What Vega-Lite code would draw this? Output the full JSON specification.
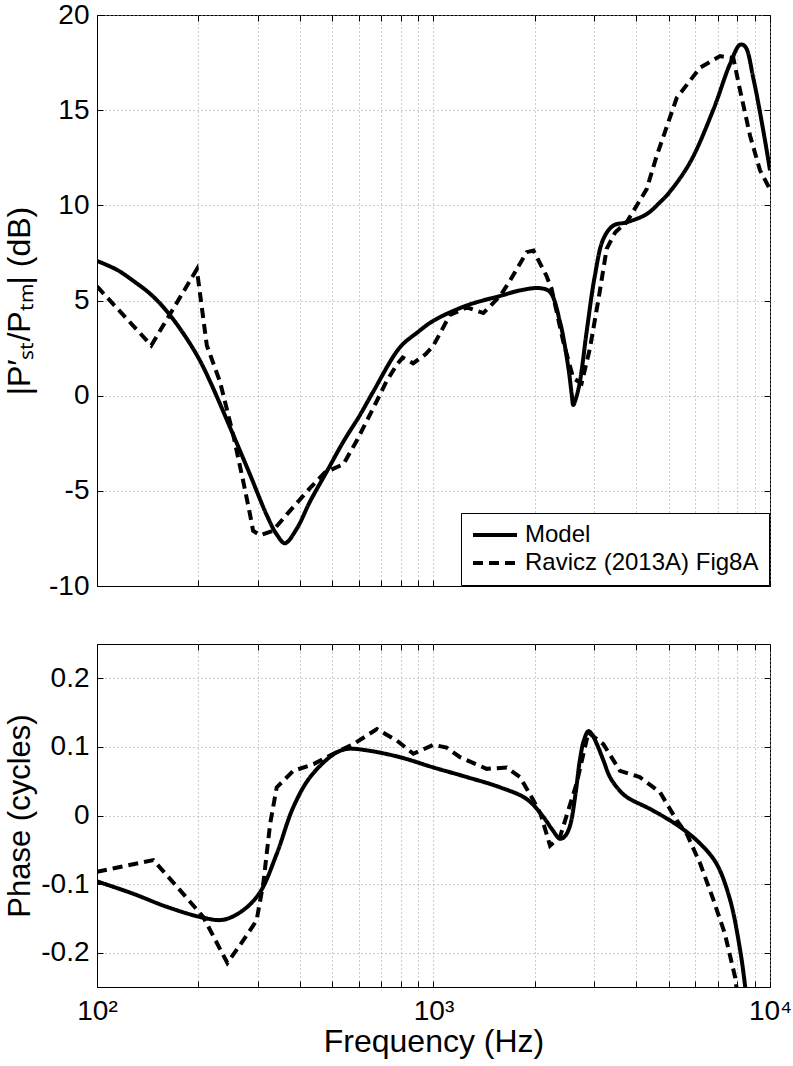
{
  "$schema": "https://vega.github.io/schema/vega-lite/v6.json",
  "background": "white",
  "padding": {"left": 3, "top": 0, "right": 2, "bottom": 6},
  "bounds": "flush",
  "spacing": 58,
  "config": {
    "font": "Liberation Sans",
    "view": {"stroke": "black", "strokeWidth": 1},
    "axis": {
      "domainColor": "black",
      "gridColor": "#9a9a9a",
      "gridDash": [1, 3],
      "gridWidth": 1,
      "tickColor": "black",
      "tickSize": -6,
      "labelFontSize": 28,
      "labelColor": "black",
      "titleFontSize": 32,
      "titleColor": "black",
      "titleFontWeight": "normal",
      "labelFont": "Liberation Sans",
      "titleFont": "Liberation Sans"
    },
    "legend": {"labelFont": "Liberation Sans"}
  },
  "datasets": {
    "mag": [
      {"f": 100, "v": 7.08, "series": "Model"},
      {"f": 115, "v": 6.6, "series": "Model"},
      {"f": 128, "v": 6.04, "series": "Model"},
      {"f": 145, "v": 5.3, "series": "Model"},
      {"f": 161, "v": 4.45, "series": "Model"},
      {"f": 180, "v": 3.3, "series": "Model"},
      {"f": 200, "v": 2.0, "series": "Model"},
      {"f": 217, "v": 0.73, "series": "Model"},
      {"f": 254, "v": -2.06, "series": "Model"},
      {"f": 285, "v": -4.15, "series": "Model"},
      {"f": 319, "v": -6.25, "series": "Model"},
      {"f": 342, "v": -7.29, "series": "Model"},
      {"f": 362, "v": -7.75, "series": "Model"},
      {"f": 392, "v": -7.0, "series": "Model"},
      {"f": 430, "v": -5.55, "series": "Model"},
      {"f": 482, "v": -3.98, "series": "Model"},
      {"f": 540, "v": -2.41, "series": "Model"},
      {"f": 605, "v": -1.01, "series": "Model"},
      {"f": 662, "v": 0.21, "series": "Model"},
      {"f": 795, "v": 2.54, "series": "Model"},
      {"f": 900, "v": 3.35, "series": "Model"},
      {"f": 1000, "v": 3.94, "series": "Model"},
      {"f": 1256, "v": 4.74, "series": "Model"},
      {"f": 1578, "v": 5.24, "series": "Model"},
      {"f": 1808, "v": 5.53, "series": "Model"},
      {"f": 2070, "v": 5.65, "series": "Model"},
      {"f": 2218, "v": 5.45, "series": "Model"},
      {"f": 2377, "v": 3.87, "series": "Model"},
      {"f": 2518, "v": 1.43, "series": "Model"},
      {"f": 2576, "v": 0.04, "series": "Model"},
      {"f": 2603, "v": -0.49, "series": "Model"},
      {"f": 2650, "v": -0.14, "series": "Model"},
      {"f": 2723, "v": 0.73, "series": "Model"},
      {"f": 2851, "v": 3.35, "series": "Model"},
      {"f": 3018, "v": 6.32, "series": "Model"},
      {"f": 3198, "v": 8.24, "series": "Model"},
      {"f": 3424, "v": 8.94, "series": "Model"},
      {"f": 3750, "v": 9.11, "series": "Model"},
      {"f": 4300, "v": 9.54, "series": "Model"},
      {"f": 4710, "v": 10.16, "series": "Model"},
      {"f": 5000, "v": 10.64, "series": "Model"},
      {"f": 5780, "v": 12.24, "series": "Model"},
      {"f": 6790, "v": 15.04, "series": "Model"},
      {"f": 7610, "v": 17.44, "series": "Model"},
      {"f": 8150, "v": 18.44, "series": "Model"},
      {"f": 8440, "v": 18.34, "series": "Model"},
      {"f": 8930, "v": 16.64, "series": "Model"},
      {"f": 9570, "v": 13.84, "series": "Model"},
      {"f": 10000, "v": 11.84, "series": "Model"},
      {"f": 100, "v": 5.74, "series": "Ravicz (2013A) Fig8A"},
      {"f": 145, "v": 2.64, "series": "Ravicz (2013A) Fig8A"},
      {"f": 198, "v": 6.64, "series": "Ravicz (2013A) Fig8A"},
      {"f": 212, "v": 2.64, "series": "Ravicz (2013A) Fig8A"},
      {"f": 232, "v": 0.73, "series": "Ravicz (2013A) Fig8A"},
      {"f": 254, "v": -2.06, "series": "Ravicz (2013A) Fig8A"},
      {"f": 272, "v": -4.5, "series": "Ravicz (2013A) Fig8A"},
      {"f": 285, "v": -6.25, "series": "Ravicz (2013A) Fig8A"},
      {"f": 291, "v": -7.1, "series": "Ravicz (2013A) Fig8A"},
      {"f": 305, "v": -7.33, "series": "Ravicz (2013A) Fig8A"},
      {"f": 333, "v": -7.1, "series": "Ravicz (2013A) Fig8A"},
      {"f": 366, "v": -6.25, "series": "Ravicz (2013A) Fig8A"},
      {"f": 430, "v": -4.85, "series": "Ravicz (2013A) Fig8A"},
      {"f": 475, "v": -4.05, "series": "Ravicz (2013A) Fig8A"},
      {"f": 540, "v": -3.6, "series": "Ravicz (2013A) Fig8A"},
      {"f": 590, "v": -2.4, "series": "Ravicz (2013A) Fig8A"},
      {"f": 662, "v": -0.66, "series": "Ravicz (2013A) Fig8A"},
      {"f": 724, "v": 0.73, "series": "Ravicz (2013A) Fig8A"},
      {"f": 779, "v": 1.64, "series": "Ravicz (2013A) Fig8A"},
      {"f": 810, "v": 2.0, "series": "Ravicz (2013A) Fig8A"},
      {"f": 870, "v": 1.7, "series": "Ravicz (2013A) Fig8A"},
      {"f": 950, "v": 2.2, "series": "Ravicz (2013A) Fig8A"},
      {"f": 1000, "v": 2.64, "series": "Ravicz (2013A) Fig8A"},
      {"f": 1119, "v": 4.24, "series": "Ravicz (2013A) Fig8A"},
      {"f": 1256, "v": 4.64, "series": "Ravicz (2013A) Fig8A"},
      {"f": 1406, "v": 4.34, "series": "Ravicz (2013A) Fig8A"},
      {"f": 1578, "v": 5.24, "series": "Ravicz (2013A) Fig8A"},
      {"f": 1688, "v": 6.04, "series": "Ravicz (2013A) Fig8A"},
      {"f": 1892, "v": 7.54, "series": "Ravicz (2013A) Fig8A"},
      {"f": 1982, "v": 7.62, "series": "Ravicz (2013A) Fig8A"},
      {"f": 2163, "v": 6.32, "series": "Ravicz (2013A) Fig8A"},
      {"f": 2243, "v": 5.62, "series": "Ravicz (2013A) Fig8A"},
      {"f": 2431, "v": 2.83, "series": "Ravicz (2013A) Fig8A"},
      {"f": 2603, "v": 0.91, "series": "Ravicz (2013A) Fig8A"},
      {"f": 2755, "v": 0.65, "series": "Ravicz (2013A) Fig8A"},
      {"f": 2916, "v": 2.48, "series": "Ravicz (2013A) Fig8A"},
      {"f": 3095, "v": 5.1, "series": "Ravicz (2013A) Fig8A"},
      {"f": 3270, "v": 7.71, "series": "Ravicz (2013A) Fig8A"},
      {"f": 3470, "v": 8.59, "series": "Ravicz (2013A) Fig8A"},
      {"f": 3750, "v": 9.11, "series": "Ravicz (2013A) Fig8A"},
      {"f": 4300, "v": 10.85, "series": "Ravicz (2013A) Fig8A"},
      {"f": 4606, "v": 12.6, "series": "Ravicz (2013A) Fig8A"},
      {"f": 5280, "v": 15.64, "series": "Ravicz (2013A) Fig8A"},
      {"f": 6200, "v": 17.24, "series": "Ravicz (2013A) Fig8A"},
      {"f": 7100, "v": 17.84, "series": "Ravicz (2013A) Fig8A"},
      {"f": 7780, "v": 17.74, "series": "Ravicz (2013A) Fig8A"},
      {"f": 8150, "v": 16.04, "series": "Ravicz (2013A) Fig8A"},
      {"f": 8730, "v": 13.64, "series": "Ravicz (2013A) Fig8A"},
      {"f": 9340, "v": 11.84, "series": "Ravicz (2013A) Fig8A"},
      {"f": 10000, "v": 10.84, "series": "Ravicz (2013A) Fig8A"}
    ],
    "phase": [
      {"f": 100, "v": -0.096, "series": "Model"},
      {"f": 128, "v": -0.114, "series": "Model"},
      {"f": 161, "v": -0.133, "series": "Model"},
      {"f": 207, "v": -0.149, "series": "Model"},
      {"f": 237, "v": -0.152, "series": "Model"},
      {"f": 272, "v": -0.138, "series": "Model"},
      {"f": 305, "v": -0.112, "series": "Model"},
      {"f": 342, "v": -0.056, "series": "Model"},
      {"f": 383, "v": 0.012, "series": "Model"},
      {"f": 430, "v": 0.056, "series": "Model"},
      {"f": 504, "v": 0.089, "series": "Model"},
      {"f": 552, "v": 0.097, "series": "Model"},
      {"f": 633, "v": 0.095, "series": "Model"},
      {"f": 795, "v": 0.085, "series": "Model"},
      {"f": 1000, "v": 0.07, "series": "Model"},
      {"f": 1256, "v": 0.056, "series": "Model"},
      {"f": 1578, "v": 0.041, "series": "Model"},
      {"f": 1892, "v": 0.024, "series": "Model"},
      {"f": 2120, "v": -0.002, "series": "Model"},
      {"f": 2250, "v": -0.02, "series": "Model"},
      {"f": 2377, "v": -0.034, "series": "Model"},
      {"f": 2460, "v": -0.03, "series": "Model"},
      {"f": 2544, "v": -0.015, "series": "Model"},
      {"f": 2640, "v": 0.03, "series": "Model"},
      {"f": 2721, "v": 0.08, "series": "Model"},
      {"f": 2800, "v": 0.11, "series": "Model"},
      {"f": 2886, "v": 0.123, "series": "Model"},
      {"f": 2960, "v": 0.118, "series": "Model"},
      {"f": 3053, "v": 0.105, "series": "Model"},
      {"f": 3200, "v": 0.08, "series": "Model"},
      {"f": 3345, "v": 0.056, "series": "Model"},
      {"f": 3550, "v": 0.038, "series": "Model"},
      {"f": 3750, "v": 0.027, "series": "Model"},
      {"f": 4500, "v": 0.007, "series": "Model"},
      {"f": 5410, "v": -0.017, "series": "Model"},
      {"f": 6200, "v": -0.041, "series": "Model"},
      {"f": 6930, "v": -0.07, "series": "Model"},
      {"f": 7610, "v": -0.123, "series": "Model"},
      {"f": 8150, "v": -0.196, "series": "Model"},
      {"f": 8440, "v": -0.25, "series": "Model"},
      {"f": 8700, "v": -0.31, "series": "Model"},
      {"f": 100, "v": -0.082, "series": "Ravicz (2013A) Fig8A"},
      {"f": 147, "v": -0.065, "series": "Ravicz (2013A) Fig8A"},
      {"f": 173, "v": -0.104, "series": "Ravicz (2013A) Fig8A"},
      {"f": 207, "v": -0.148, "series": "Ravicz (2013A) Fig8A"},
      {"f": 244, "v": -0.215, "series": "Ravicz (2013A) Fig8A"},
      {"f": 272, "v": -0.182, "series": "Ravicz (2013A) Fig8A"},
      {"f": 298, "v": -0.153, "series": "Ravicz (2013A) Fig8A"},
      {"f": 312, "v": -0.099, "series": "Ravicz (2013A) Fig8A"},
      {"f": 327, "v": -0.012, "series": "Ravicz (2013A) Fig8A"},
      {"f": 342, "v": 0.041, "series": "Ravicz (2013A) Fig8A"},
      {"f": 383, "v": 0.065, "series": "Ravicz (2013A) Fig8A"},
      {"f": 440, "v": 0.075, "series": "Ravicz (2013A) Fig8A"},
      {"f": 504, "v": 0.09, "series": "Ravicz (2013A) Fig8A"},
      {"f": 578, "v": 0.104, "series": "Ravicz (2013A) Fig8A"},
      {"f": 679, "v": 0.126, "series": "Ravicz (2013A) Fig8A"},
      {"f": 779, "v": 0.109, "series": "Ravicz (2013A) Fig8A"},
      {"f": 871, "v": 0.09, "series": "Ravicz (2013A) Fig8A"},
      {"f": 1000, "v": 0.103, "series": "Ravicz (2013A) Fig8A"},
      {"f": 1094, "v": 0.099, "series": "Ravicz (2013A) Fig8A"},
      {"f": 1199, "v": 0.085, "series": "Ravicz (2013A) Fig8A"},
      {"f": 1439, "v": 0.068, "series": "Ravicz (2013A) Fig8A"},
      {"f": 1651, "v": 0.07, "series": "Ravicz (2013A) Fig8A"},
      {"f": 1808, "v": 0.056, "series": "Ravicz (2013A) Fig8A"},
      {"f": 1982, "v": 0.022, "series": "Ravicz (2013A) Fig8A"},
      {"f": 2082, "v": 0.002, "series": "Ravicz (2013A) Fig8A"},
      {"f": 2220, "v": -0.044, "series": "Ravicz (2013A) Fig8A"},
      {"f": 2377, "v": -0.031, "series": "Ravicz (2013A) Fig8A"},
      {"f": 2660, "v": 0.046, "series": "Ravicz (2013A) Fig8A"},
      {"f": 2886, "v": 0.121, "series": "Ravicz (2013A) Fig8A"},
      {"f": 3197, "v": 0.104, "series": "Ravicz (2013A) Fig8A"},
      {"f": 3583, "v": 0.065, "series": "Ravicz (2013A) Fig8A"},
      {"f": 4100, "v": 0.056, "series": "Ravicz (2013A) Fig8A"},
      {"f": 4710, "v": 0.034, "series": "Ravicz (2013A) Fig8A"},
      {"f": 5280, "v": -0.007, "series": "Ravicz (2013A) Fig8A"},
      {"f": 5660, "v": -0.027, "series": "Ravicz (2013A) Fig8A"},
      {"f": 6200, "v": -0.07, "series": "Ravicz (2013A) Fig8A"},
      {"f": 6790, "v": -0.123, "series": "Ravicz (2013A) Fig8A"},
      {"f": 7340, "v": -0.172, "series": "Ravicz (2013A) Fig8A"},
      {"f": 7870, "v": -0.235, "series": "Ravicz (2013A) Fig8A"},
      {"f": 8100, "v": -0.28, "series": "Ravicz (2013A) Fig8A"}
    ]
  },
  "resolve": {"legend": {"strokeDash": "independent"}},
  "vconcat": [
    {
      "width": 673,
      "height": 571,
      "data": {"name": "mag"},
      "resolve": {"axis": {"x": "independent", "y": "independent"}},
      "layer": [
        {
          "transform": [{"filter": "datum.series == 'Model'"}],
          "mark": {"type": "line", "interpolate": "catmull-rom", "strokeWidth": 4, "color": "black", "clip": true},
          "encoding": {
            "x": {
              "field": "f", "type": "quantitative",
              "scale": {"type": "log", "domain": [100, 10000], "nice": false},
              "axis": {
                "values": [100, 200, 300, 400, 500, 600, 700, 800, 900, 1000, 2000, 3000, 4000, 5000, 6000, 7000, 8000, 9000, 10000],
                "labels": false, "title": null, "grid": true
              }
            },
            "y": {
              "field": "v", "type": "quantitative",
              "scale": {"domain": [-10, 20], "nice": false},
              "axis": {
                "values": [-10, -5, 0, 5, 10, 15, 20],
                "labelExpr": "'' + datum.value",
                "labelPadding": 14,
                "title": "|P′ₛₜ/Pₜₘ| (dB)",
                "titlePadding": 12,
                "grid": true
              }
            },
            "strokeDash": {
              "field": "series", "type": "nominal",
              "scale": {"domain": ["Model", "Ravicz (2013A) Fig8A"], "range": [[1, 0], [10, 6]]},
              "legend": {
                "title": null,
                "orient": "bottom-right",
                "offset": 1,
                "strokeColor": "black",
                "fillColor": "white",
                "padding": 10,
                "labelFontSize": 24,
                "labelColor": "black",
                "labelLimit": 0,
                "symbolType": "M-1,0H3.4",
                "symbolSize": 400,
                "symbolStrokeWidth": 4,
                "symbolStrokeColor": "black",
                "symbolFillColor": "transparent",
                "rowPadding": 4,
                "labelOffset": 30
              }
            }
          }
        },
        {
          "transform": [{"filter": "datum.series != 'Model'"}],
          "mark": {"type": "line", "strokeWidth": 4, "color": "black", "clip": true},
          "encoding": {
            "x": {"field": "f", "type": "quantitative", "axis": null},
            "y": {"field": "v", "type": "quantitative", "axis": null},
            "strokeDash": {
              "field": "series", "type": "nominal",
              "scale": {"domain": ["Model", "Ravicz (2013A) Fig8A"], "range": [[1, 0], [10, 6]]},
              "legend": {
                "title": null,
                "orient": "bottom-right",
                "offset": 1,
                "strokeColor": "black",
                "fillColor": "white",
                "padding": 10,
                "labelFontSize": 24,
                "labelColor": "black",
                "labelLimit": 0,
                "symbolType": "M-1,0H3.4",
                "symbolSize": 400,
                "symbolStrokeWidth": 4,
                "symbolStrokeColor": "black",
                "symbolFillColor": "transparent",
                "rowPadding": 4,
                "labelOffset": 30
              }
            }
          }
        },
        {
          "mark": {"type": "point", "opacity": 0},
          "encoding": {
            "x": {
              "field": "f", "type": "quantitative",
              "axis": {
                "orient": "top",
                "values": [100, 200, 300, 400, 500, 600, 700, 800, 900, 1000, 2000, 3000, 4000, 5000, 6000, 7000, 8000, 9000, 10000],
                "labels": false, "title": null, "grid": false, "domain": false
              }
            },
            "y": {
              "field": "v", "type": "quantitative",
              "axis": {
                "orient": "right",
                "values": [-10, -5, 0, 5, 10, 15, 20],
                "labels": false, "title": null, "grid": false, "domain": false
              }
            }
          }
        }
      ]
    },
    {
      "width": 673,
      "height": 343,
      "data": {"name": "phase"},
      "resolve": {"axis": {"x": "independent", "y": "independent"}},
      "layer": [
        {
          "transform": [{"filter": "datum.series == 'Model'"}],
          "mark": {"type": "line", "interpolate": "catmull-rom", "strokeWidth": 4, "color": "black", "clip": true},
          "encoding": {
            "x": {
              "field": "f", "type": "quantitative",
              "scale": {"type": "log", "domain": [100, 10000], "nice": false},
              "axis": {
                "values": [100, 200, 300, 400, 500, 600, 700, 800, 900, 1000, 2000, 3000, 4000, 5000, 6000, 7000, 8000, 9000, 10000],
                "labelExpr": "datum.value == 100 ? '10²' : datum.value == 1000 ? '10³' : datum.value == 10000 ? '10⁴' : ''",
                "labelOverlap": false,
                "labelFlush": false,
                "labelPadding": 16,
                "title": "Frequency (Hz)",
                "titleFontSize": 32,
                "titlePadding": 1,
                "grid": true
              }
            },
            "y": {
              "field": "v", "type": "quantitative",
              "scale": {"domain": [-0.25, 0.25], "nice": false},
              "axis": {
                "values": [-0.2, -0.1, 0, 0.1, 0.2],
                "labelExpr": "'' + datum.value",
                "labelPadding": 14,
                "title": "Phase (cycles)",
                "titleFontSize": 31,
                "titlePadding": 4,
                "grid": true
              }
            },
            "strokeDash": {
              "field": "series", "type": "nominal",
              "scale": {"domain": ["Model", "Ravicz (2013A) Fig8A"], "range": [[1, 0], [10, 6]]},
              "legend": null
            }
          }
        },
        {
          "transform": [{"filter": "datum.series != 'Model'"}],
          "mark": {"type": "line", "strokeWidth": 4, "color": "black", "clip": true},
          "encoding": {
            "x": {"field": "f", "type": "quantitative", "axis": null},
            "y": {"field": "v", "type": "quantitative", "axis": null},
            "strokeDash": {
              "field": "series", "type": "nominal",
              "scale": {"domain": ["Model", "Ravicz (2013A) Fig8A"], "range": [[1, 0], [10, 6]]},
              "legend": null
            }
          }
        },
        {
          "mark": {"type": "point", "opacity": 0},
          "encoding": {
            "x": {
              "field": "f", "type": "quantitative",
              "axis": {
                "orient": "top",
                "values": [100, 200, 300, 400, 500, 600, 700, 800, 900, 1000, 2000, 3000, 4000, 5000, 6000, 7000, 8000, 9000, 10000],
                "labels": false, "title": null, "grid": false, "domain": false
              }
            },
            "y": {
              "field": "v", "type": "quantitative",
              "axis": {
                "orient": "right",
                "values": [-0.2, -0.1, 0, 0.1, 0.2],
                "labels": false, "title": null, "grid": false, "domain": false
              }
            }
          }
        }
      ]
    }
  ]
}
